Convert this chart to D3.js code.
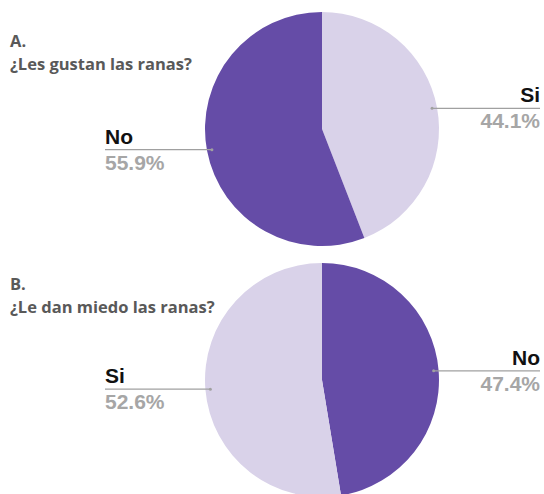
<!DOCTYPE html>
<html>
<head>
<meta charset="utf-8">
<script src="https://cdn.jsdelivr.net/npm/d3@7"></script>
<style>
  body { margin: 0; background: #fff; }
  .title { font-family: "Open Sans", sans-serif; font-weight: bold; fill: #595959; }
  .lbl { font-family: "Liberation Sans", Arial, sans-serif; font-weight: bold; font-size: 21px; }
</style>
</head>
<body>
<div id="chart"></div>
<script>
// data
var letters = ["A.", "B."];
var questions = ["¿Les gustan las ranas?", "¿Le dan miedo las ranas?"];
var answersA = ["Si", "No"];
var valuesA = [44.1, 55.9];
var answersB = ["No", "Si"];
var valuesB = [47.4, 52.6];

var colors = {"Si": "#d9d2e9", "No": "#654ca7"};

var svg = d3.select("#chart").append("svg")
    .attr("width", 544)
    .attr("height", 494);

var radius = 117, labelR = 112;
var pie = d3.pie().sort(null).value(function(d) { return d.value; });
var arc = d3.arc().innerRadius(0).outerRadius(radius);

var panels = [
  {letter: letters[0], q: questions[0], keys: answersA, vals: valuesA, cy: 129, ty: 47},
  {letter: letters[1], q: questions[1], keys: answersB, vals: valuesB, cy: 380, ty: 290}
];

panels.forEach(function(p) {
  svg.append("text").attr("class", "title")
      .attr("x", 10).attr("y", p.ty)
      .style("font-size", "16.5px")
      .text(p.letter);
  svg.append("text").attr("class", "title")
      .attr("x", 10).attr("y", p.ty + 23)
      .style("font-size", "16.5px")
      .text(p.q);

  var data = p.keys.map(function(k, i) { return {key: k, value: p.vals[i]}; });
  var g = svg.append("g").attr("transform", "translate(322," + p.cy + ")");

  g.selectAll("path")
      .data(pie(data))
    .enter().append("path")
      .attr("d", arc)
      .attr("fill", function(d) { return colors[d.data.key]; });

  pie(data).forEach(function(d) {
    var a = (d.startAngle + d.endAngle) / 2;
    var px = labelR * Math.sin(a), py = -labelR * Math.cos(a);
    var right = px > 0;
    var x2 = right ? 540 - 322 : 105 - 322;

    g.append("line")
        .attr("x1", px).attr("y1", py)
        .attr("x2", x2).attr("y2", py)
        .attr("stroke", "#a0a0a0").attr("stroke-width", 1.2);
    g.append("circle")
        .attr("cx", px).attr("cy", py).attr("r", 1.5)
        .attr("fill", "#a0a0a0");

    g.append("text").attr("class", "lbl")
        .attr("x", x2).attr("y", py - 6)
        .attr("text-anchor", right ? "end" : "start")
        .attr("fill", "#111")
        .text(d.data.key);
    g.append("text").attr("class", "lbl")
        .attr("x", x2).attr("y", py + 20)
        .attr("text-anchor", right ? "end" : "start")
        .attr("fill", "#a6a6a6")
        .text(d3.format(".1f")(d.data.value) + "%");
  });
});
</script>
</body>
</html>
